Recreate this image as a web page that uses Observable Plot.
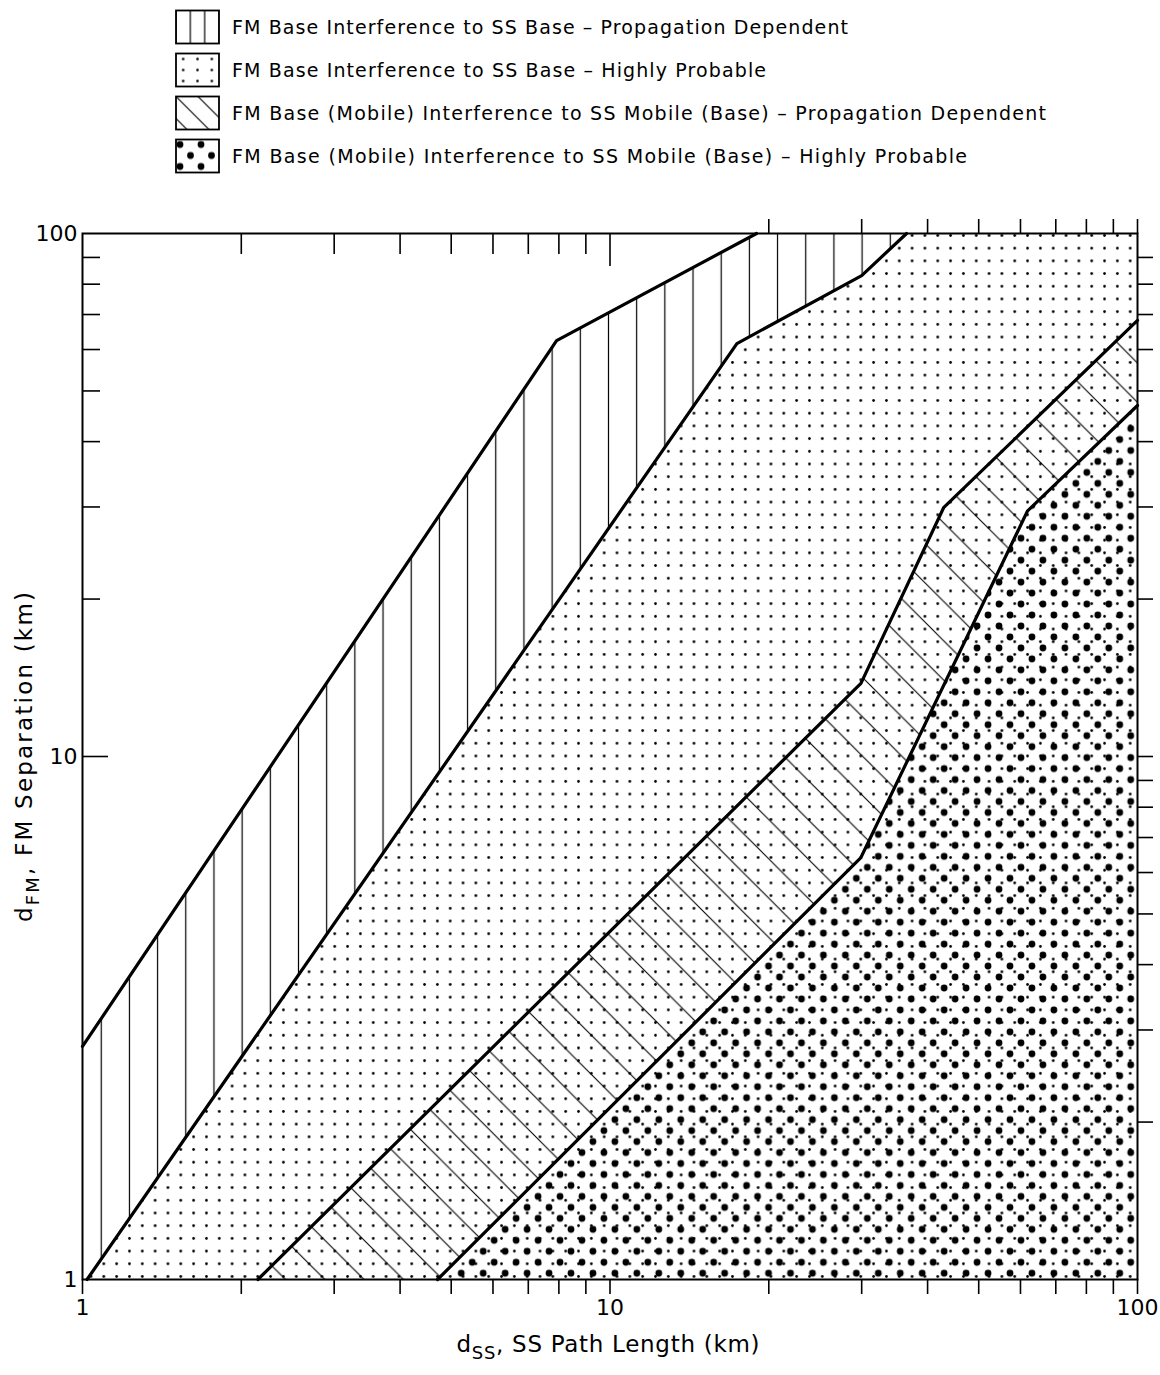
<!DOCTYPE html>
<html><head><meta charset="utf-8">
<script src="https://cdn.jsdelivr.net/npm/d3@7"></script>
<script src="https://cdn.jsdelivr.net/npm/@observablehq/plot@0.6"></script>
<style>
body{margin:0;background:#fff;}
svg{display:block;}
</style></head><body>
<svg id="legend" width="1160" height="200"></svg>
<div id="chart"></div>
<script>
// ---------- data ----------
const legendLabels = [
  "FM Base Interference to SS Base \u2013 Propagation Dependent",
  "FM Base Interference to SS Base \u2013 Highly Probable",
  "FM Base (Mobile) Interference to SS Mobile (Base) \u2013 Propagation Dependent",
  "FM Base (Mobile) Interference to SS Mobile (Base) \u2013 Highly Probable"
];
const legendPatterns = ["lg-vert", "lg-small", "lg-diag", "lg-big"];
const legendTextWidths = [616, 534, 814, 735];

const axisMin = 1, axisMax = 100;
const majorTicks = [1, 10, 100];
const minorTicksLow = [2, 3, 4, 5, 6, 7, 8, 9];
const minorTicksHigh = [20, 30, 40, 50, 60, 70, 80, 90];

// boundary of "FM Base -> SS Base, propagation dependent" (upper edge)
const line1X = [1, 7.92, 18.96];
const line1Y = [2.79, 62.4, 100];
// boundary of "FM Base -> SS Base, highly probable"
const line2X = [1.02, 17.4, 30.0, 36.5];
const line2Y = [1, 61.6, 83.1, 100];
// boundary of "Base(Mobile) -> Mobile(Base), propagation dependent"
const line3X = [2.15, 29.9, 42.9, 100];
const line3Y = [1, 13.8, 29.9, 68.2];
// boundary of "Base(Mobile) -> Mobile(Base), highly probable"
const line4X = [4.71, 29.9, 61.9, 100];
const line4Y = [1, 6.41, 29.5, 46.9];

const xTitle = ["d", "SS", ", SS Path Length (km)"];
const yTitle = ["d", "FM", ", FM Separation (km)"];

// ---------- build tables ----------
const pts = (X, Y) => X.map((x, i) => ({x, y: Y[i]}));
const L1 = pts(line1X, line1Y), L2 = pts(line2X, line2Y), L3 = pts(line3X, line3Y), L4 = pts(line4X, line4Y);
const regionA = [...L1, ...L2.slice().reverse(), {x: axisMin, y: axisMin}];
const regionB = [...L2, {x: axisMax, y: axisMax}, {x: axisMax, y: axisMin}];
const regionC = [...L3, ...L4.slice().reverse()];
const regionD = [...L4, {x: axisMax, y: axisMin}];

const FONT = "'DejaVu Sans','Liberation Sans',sans-serif";
const blank = () => "";
const tk = {strokeWidth: 1.6, tickFormat: blank, label: null};

const chart = Plot.plot({
  width: 1160, height: 1175,
  marginLeft: 82, marginRight: 23, marginTop: 33, marginBottom: 96,
  style: {fontFamily: FONT, fontSize: "22px", color: "black", background: "white"},
  x: {type: "log", domain: [axisMin, axisMax], label: null},
  y: {type: "log", domain: [axisMin, axisMax], label: null},
  marks: [
    Plot.line(regionB, {x: "x", y: "y", fill: "url(#pat-small)", stroke: "none"}),
    Plot.line(regionA, {x: "x", y: "y", fill: "url(#pat-vert)", stroke: "none"}),
    Plot.line(regionC, {x: "x", y: "y", fill: "url(#pat-diag)", stroke: "none"}),
    Plot.line(regionD, {x: "x", y: "y", fill: "url(#pat-big)", stroke: "none"}),
    Plot.line(L1, {x: "x", y: "y", stroke: "black", strokeWidth: 3.2, strokeLinejoin: "miter"}),
    Plot.line(L2, {x: "x", y: "y", stroke: "black", strokeWidth: 3.2, strokeLinejoin: "miter"}),
    Plot.line(L3, {x: "x", y: "y", stroke: "black", strokeWidth: 3.2, strokeLinejoin: "miter"}),
    Plot.line(L4, {x: "x", y: "y", stroke: "black", strokeWidth: 3.2, strokeLinejoin: "miter"}),
    Plot.frame({stroke: "black", strokeWidth: 2}),
    // left axis
    Plot.axisY(minorTicksHigh, {anchor: "left", tickSize: -18, ...tk}),
    Plot.axisY([10], {anchor: "left", tickSize: -26, ...tk}),
    Plot.axisY(majorTicks, {anchor: "left", tickSize: 0, tickPadding: 5, label: null, tickFormat: d => String(d)}),
    // right axis
    Plot.axisY([...minorTicksLow, 10, ...minorTicksHigh], {anchor: "right", tickSize: 15, ...tk}),
    // top axis
    Plot.axisX(minorTicksLow, {anchor: "top", tickSize: -20, ...tk}),
    Plot.axisX([10], {anchor: "top", tickSize: -32, ...tk}),
    Plot.axisX([...minorTicksHigh, 100], {anchor: "top", tickSize: 15, ...tk}),
    // bottom axis
    Plot.axisX([...majorTicks, ...minorTicksLow, ...minorTicksHigh], {anchor: "bottom", tickSize: 15, ...tk}),
    Plot.axisX(majorTicks, {anchor: "bottom", tickSize: 0, tickPadding: 20, label: null, tickFormat: d => String(d)})
  ]
});
document.getElementById("chart").appendChild(chart);

// ---------- patterns ----------
const svg = d3.select(chart);
const defs = svg.insert("defs", ":first-child");
function dotPattern(d, id, w, h, x, y, dots, r) {
  const p = d.append("pattern").attr("id", id).attr("patternUnits", "userSpaceOnUse")
    .attr("width", w).attr("height", h).attr("x", x).attr("y", y);
  dots.forEach(([cx, cy]) => p.append("circle").attr("cx", cx).attr("cy", cy).attr("r", r).attr("fill", "black"));
  return p;
}
{
  const w = 12.83, h = 12.695;
  dotPattern(defs, "pat-small", w, h, 0.66 - w / 2, 9.61 - h / 2, [[w / 2, h / 2]], 1.35);
}
{
  const w = 28.18;
  const p = defs.append("pattern").attr("id", "pat-vert").attr("patternUnits", "userSpaceOnUse")
    .attr("width", w).attr("height", 10).attr("x", 16.2 - w / 2).attr("y", 0);
  p.append("rect").attr("x", w / 2 - 0.6).attr("y", 0).attr("width", 1.2).attr("height", 10).attr("fill", "black");
}
{
  const s = 39.3;
  const p = defs.append("pattern").attr("id", "pat-diag").attr("patternUnits", "userSpaceOnUse")
    .attr("width", s).attr("height", s).attr("x", 0).attr("y", 8);
  p.append("path").attr("d", `M0,0L${s},${s}M-3,${s - 3}L3,${s + 3}M${s - 3},-3L${s + 3},3`)
    .attr("stroke", "black").attr("stroke-width", 1.1).attr("fill", "none");
}
{
  const w = 21.95, h = 21.94;
  dotPattern(defs, "pat-big", w, h, -0.2, 19.6, [[0, 0], [w, 0], [0, h], [w, h], [w / 2, h / 2]], 3.4);
}

// ---------- axis titles with subscripts ----------
function titled(sel, parts) {
  sel.append("tspan").text(parts[0]);
  sel.append("tspan").attr("dy", 7).attr("font-size", 18).text(parts[1]);
  sel.append("tspan").attr("dy", -7).text(parts[2]);
}
const xt = svg.append("text").attr("x", 608).attr("y", 1152).attr("text-anchor", "middle")
  .attr("font-family", FONT).attr("font-size", 23).attr("fill", "black")
  .attr("textLength", 303).attr("lengthAdjust", "spacing");
titled(xt, xTitle);
const yt = svg.append("text").attr("transform", "translate(32,557) rotate(-90)").attr("text-anchor", "middle")
  .attr("font-family", FONT).attr("font-size", 23).attr("fill", "black")
  .attr("textLength", 330).attr("lengthAdjust", "spacing");
titled(yt, yTitle);

// ---------- legend ----------
const lg = d3.select("#legend");
const ldefs = lg.append("defs");
const rowC = [27, 70, 113, 156];
const bx = 176, bw = 43, bh = 33;
{
  const p = ldefs.append("pattern").attr("id", "lg-vert").attr("patternUnits", "userSpaceOnUse")
    .attr("width", bw / 3).attr("height", 10).attr("x", bx).attr("y", 0);
  p.append("rect").attr("x", -0.6).attr("width", 1.2).attr("height", 10).attr("fill", "black");
  p.append("rect").attr("x", bw / 3 - 0.6).attr("width", 1.2).attr("height", 10).attr("fill", "black");
}
dotPattern(ldefs, "lg-small", bw / 3, bh / 3, bx, rowC[1] - bh / 2, [[bw / 6, bh / 6]], 1.3);
{
  const s = 22;
  const p = ldefs.append("pattern").attr("id", "lg-diag").attr("patternUnits", "userSpaceOnUse")
    .attr("width", s).attr("height", s).attr("x", bx).attr("y", rowC[2] - bh / 2);
  p.append("path").attr("d", `M0,0L${s},${s}M-3,${s - 3}L3,${s + 3}M${s - 3},-3L${s + 3},3`)
    .attr("stroke", "black").attr("stroke-width", 1.1);
}
dotPattern(ldefs, "lg-big", 21, 22, bx + 4, rowC[3] - bh / 2 + 5, [[0, 0], [21, 0], [0, 22], [21, 22], [10.5, 11]], 3.4);

legendLabels.forEach((t, i) => {
  lg.append("rect").attr("x", bx).attr("y", rowC[i] - bh / 2).attr("width", bw).attr("height", bh)
    .attr("fill", `url(#${legendPatterns[i]})`).attr("stroke", "black").attr("stroke-width", 1.8);
  lg.append("text").attr("x", 232).attr("y", rowC[i] + 7).attr("font-family", FONT).attr("font-size", 19)
    .attr("textLength", legendTextWidths[i]).attr("lengthAdjust", "spacing").attr("fill", "black").text(t);
});
</script>
</body></html>
